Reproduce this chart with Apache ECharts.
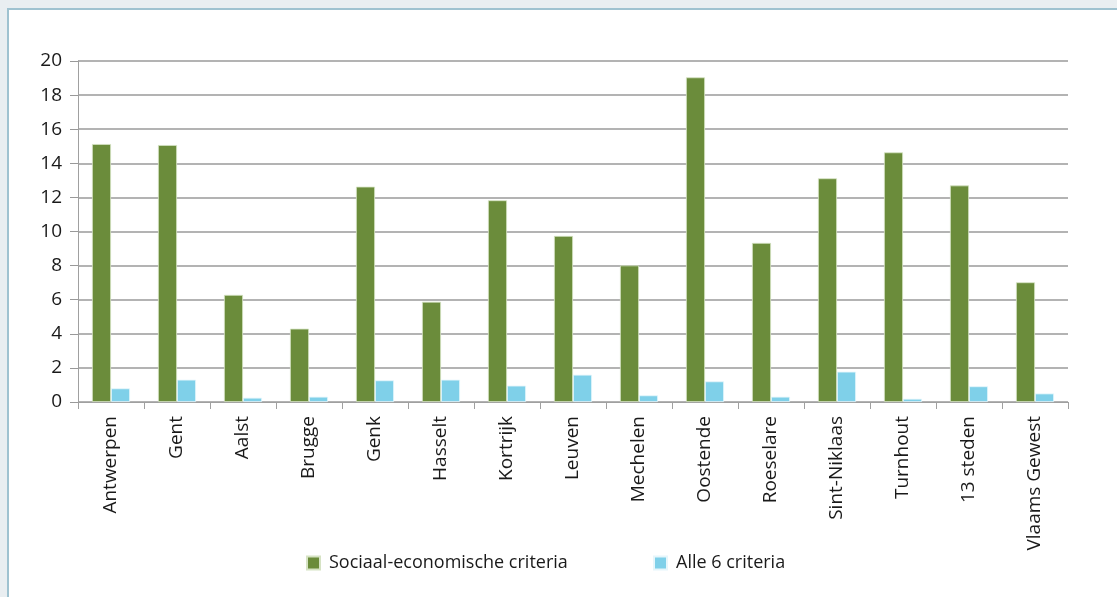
<!DOCTYPE html>
<html>
<head>
<meta charset="utf-8">
<script src="https://cdn.jsdelivr.net/npm/echarts@6/dist/echarts.min.js"></script>
<style>
html,body{margin:0;padding:0;background:#e9eef1;}
#frame{position:absolute;left:7px;top:8px;width:1110px;height:589px;background:#fff;border-left:2px solid #9fc2d0;border-top:2px solid #9fc2d0;box-sizing:border-box;}
#chart{position:absolute;left:0;top:0;width:1117px;height:597px;}
</style>
</head>
<body>
<div id="frame"></div>
<div id="chart"></div>
<script>
const categories = ["Antwerpen","Gent","Aalst","Brugge","Genk","Hasselt","Kortrijk","Leuven","Mechelen","Oostende","Roeselare","Sint-Niklaas","Turnhout","13 steden","Vlaams Gewest"];
const sociaalEconomisch = [15.13,15.07,6.28,4.30,12.63,5.88,11.83,9.74,8.01,19.04,9.33,13.12,14.64,12.70,7.02];
const alle6 = [0.80,1.31,0.25,0.31,1.27,1.31,0.96,1.60,0.39,1.21,0.31,1.78,0.19,0.92,0.50];
const yTicks = [0,2,4,6,8,10,12,14,16,18,20];
const seriesNames = ["Sociaal-economische criteria","Alle 6 criteria"];

const FONT = "Open Sans";
const legendText = {fontFamily: FONT, fontSize: 18, color: '#1a1a1a', padding:[0,0,0,4]};
const chart = echarts.init(document.getElementById('chart'), null, {renderer:'canvas'});
chart.setOption({
  backgroundColor: 'transparent',
  animation: false,
  textStyle: {fontFamily: FONT},
  grid: {left: 78, right: 49, top: 61, bottom: 195, containLabel: false},
  legend: [
    {data: [seriesNames[0]], left: 306, top: 554, padding: 0, itemWidth: 13, itemHeight: 13, icon: 'rect', textStyle: legendText, selectedMode: false},
    {data: [seriesNames[1]], left: 653, top: 554, padding: 0, itemWidth: 13, itemHeight: 13, icon: 'rect', textStyle: legendText, selectedMode: false}
  ],
  xAxis: {
    type: 'category',
    data: categories,
    axisLine: {show: true, lineStyle: {color: '#a0a0a0', width: 1}},
    axisTick: {show: true, length: 7, lineStyle: {color: '#a0a0a0'}, alignWithLabel: false},
    axisLabel: {rotate: 90, margin: 14, fontFamily: FONT, fontSize: 19, color: '#1a1a1a', interval: 0}
  },
  yAxis: {
    type: 'value',
    min: 0, max: 20, interval: 2,
    axisLine: {show: true, lineStyle: {color: '#a0a0a0', width: 1}},
    axisTick: {show: true, length: 8, lineStyle: {color: '#999'}},
    splitLine: {show: true, lineStyle: {color: '#9a9a9a', width: 1.5}},
    axisLabel: {
      margin: 16, fontFamily: FONT, fontSize: 19, color: '#1a1a1a',
      formatter: v => yTicks.includes(v) ? String(v) : ''
    }
  },
  series: [
    {
      name: seriesNames[0],
      type: 'bar',
      data: sociaalEconomisch,
      barWidth: 19,
      barGap: '0%',
      itemStyle: {color: '#6b8c3b', borderColor: '#d6e3c4', borderWidth: 0.8}
    },
    {
      name: seriesNames[1],
      type: 'bar',
      data: alle6,
      barWidth: 19,
      barGap: '0%',
      itemStyle: {color: '#7fd0e9', borderColor: '#e6f6fb', borderWidth: 0.8}
    }
  ]
});
</script>
</body>
</html>
